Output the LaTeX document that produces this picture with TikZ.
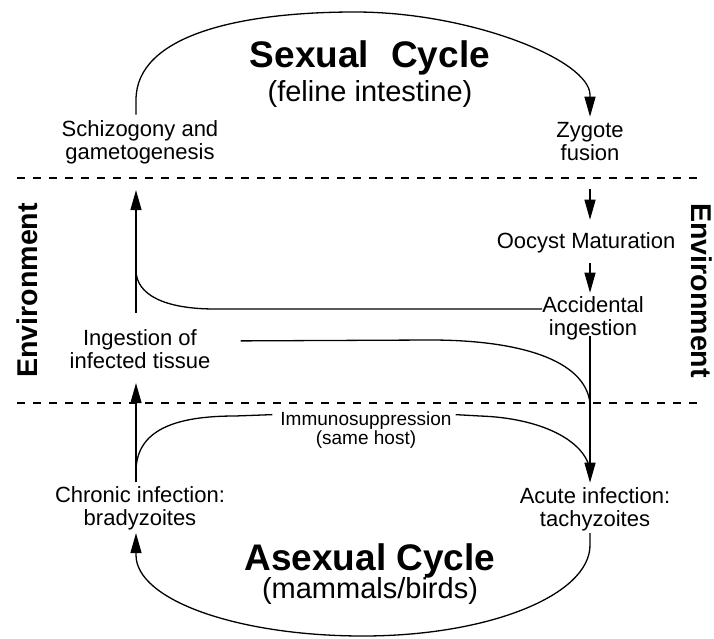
\documentclass[tikz,border=0pt]{standalone}
\usepackage{fontspec}
\setmainfont{Liberation Sans}
\usetikzlibrary{arrows.meta,calc}
\newcommand\mylines[1]{\begin{tabular}[t]{@{}c@{}}#1\end{tabular}}
\begin{document}
\begin{tikzpicture}[x=1pt,y=-1pt,
  lab/.style={font=\fontsize{22}{23}\selectfont, inner sep=0pt, anchor=base},
  small/.style={font=\fontsize{19}{18}\selectfont, inner sep=0pt, anchor=base},
  title/.style={font=\fontsize{37}{40}\selectfont\bfseries, inner sep=0pt, anchor=base},
  subtitle/.style={font=\fontsize{29}{31}\selectfont, inner sep=0pt, anchor=base},
  envlab/.style={font=\fontsize{28.6}{30}\selectfont\bfseries, inner sep=0pt},
  conn/.style={line width=1.3pt},
  arr/.style={line width=1.3pt, -{Triangle[length=20pt,width=11pt]}},
  divider/.style={line width=1.2pt, dash pattern=on 8pt off 8pt}]
\useasboundingbox (0,0) rectangle (714,639);
\coordinate (L) at (136,0);
\coordinate (R) at (590,0);
\coordinate (J) at (590,403);
% dividers
\draw[divider] (17,178) -- (699,178);
\draw[divider] (17,403) -- (699,403);
% titles
\node[title] (sext) at (370,68) {Sexual\hspace{22pt}Cycle};
\node[subtitle] (sexs) at (370,102) {(feline intestine)};
\node[title] (asext) at (370,570) {Asexual Cycle};
\node[subtitle] (asexs) at (370,598) {(mammals/birds)};
\node[envlab, rotate=90] (envl) at (27.5,290.5) {Environment};
\node[envlab, rotate=-90] (envr) at (702,290.5) {Environment};
% labels
\node[lab] (schiz) at (140,137) {\mylines{Schizogony and\\gametogenesis}};
\node[lab] (zyg) at (590,138) {\mylines{Zygote\\fusion}};
\node[lab] (ooc) at (586,248) {\mylines{Oocyst Maturation}};
\node[lab] (acc) at (593,312) {\mylines{Accidental\\ingestion}};
\node[lab] (ingt) at (140,345) {\mylines{Ingestion of\\infected tissue}};
\node[lab] (chr) at (140,502) {\mylines{Chronic infection:\\bradyzoites}};
\node[lab] (acu) at (595,503) {\mylines{Acute infection:\\tachyzoites}};
\node[small] (imm) at (366,425) {\mylines{Immunosuppression\\(same host)}};
% sexual cycle arc
\draw[arr] ($(L|-schiz.north)+(0,-6)$) -- (136,100)
  .. controls (136,35) and (240,12) .. (355,12)
  .. controls (470,12) and (590,60) .. (590,95)
  -- ($(R|-zyg.north)+(0,-5)$);
% right column
\draw[arr] ($(R|-zyg.south)+(0,21)$) -- ($(R|-ooc.north)+(0,-12)$);
\draw[arr] ($(R|-ooc.south)+(0,8)$) -- ($(R|-acc.north)+(0,-3)$);
\draw[arr] ($(R|-acc.south)+(0,-6)$) -- ($(R|-acu.north)+(0,-4)$);
% accidental ingestion to left column
\draw[conn] ($(acc.west)+(0,-10)$) -- (215,309)
  .. controls (165,309) and (136,295) .. (136,270);
% left column
\draw[arr] ($(L|-ingt.north)+(0,-16)$) -- ($(L|-schiz.south)+(0,23)$);
\draw[arr] ($(L|-chr.north)+(0,-4)$) -- ($(L|-ingt.south)+(0,8)$);
% ingestion of infected tissue to acute infection
\draw[conn] ($(ingt.east)+(30,-11)$) -- (430,340)
  .. controls (520,340) and (585,360) .. (J);
% immunosuppression
\draw[conn] ($(L|-chr.north)+(0,-14)$)
  .. controls (136,430) and (175,416) .. (235,416)
  -- ($(imm.north west)+(-8,3.6)$);
\draw[conn] ($(imm.north east)+(4,3.6)$) -- (480,416)
  .. controls (540,418) and (585,440) .. (590,470);
% asexual cycle arc
\draw[arr] (R|-acu.south) -- (590,545)
  .. controls (590,595.3) and (488.4,636) .. (363,636)
  .. controls (237.6,636) and (136,600) .. (136,555)
  -- ($(L|-chr.south)+(0,1)$);
\end{tikzpicture}
\end{document}
